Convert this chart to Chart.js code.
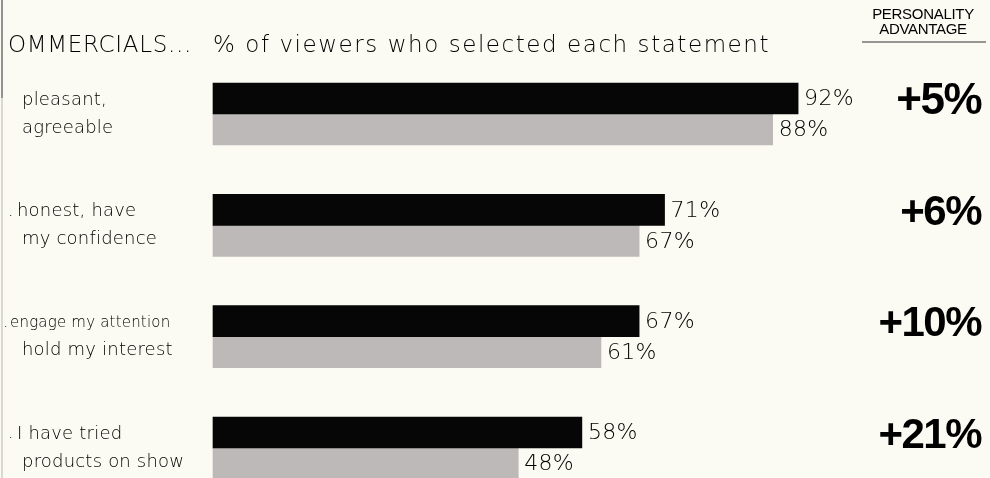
<!DOCTYPE html>
<html>
<head>
<meta charset="utf-8">
<script src="https://cdn.jsdelivr.net/npm/chart.js@4"></script>
<style>
  html, body { margin: 0; padding: 0; background: #fbfbf3; overflow: hidden; }
  #wrap { width: 990px; height: 478px; position: relative; }
</style>
</head>
<body>
<div id="wrap"><canvas id="chart" width="990" height="478"></canvas></div>
<script>
// data
const statements = [
  ["pleasant,", "agreeable"],
  [". honest, have", "my confidence"],
  [". engage my attention", "hold my interest"],
  [". I have tried", "products on show"]
];
const personalityShare = [92, 71, 67, 58]; // black bars
const otherShare = [88, 67, 61, 48];       // grey bars
const advantage = ["+5%", "+6%", "+10%", "+21%"];

const titleLeft = "OMMERCIALS...";
const titleMain = "% of viewers who selected each statement";
const headRight = ["PERSONALITY", "ADVANTAGE"];

const ink = "#000000";
const lightFont = "'DejaVu Sans'";

// draws text with some letter spacing (the original type is wide)
function spacedText(ctx, txt, x, y, spacing, align) {
  ctx.letterSpacing = spacing + "px";
  ctx.textAlign = align || "left";
  ctx.fillText(txt, x, y);
  ctx.letterSpacing = "0px";
}

// spreads a heading out so it covers the same width as in the scan
function fitText(ctx, txt, x, y, width) {
  ctx.letterSpacing = "0px";
  const w = ctx.measureText(txt).width;
  const sp = Math.max(0, (width - w) / txt.length);
  spacedText(ctx, txt, x, y, sp);
}

// all the text around the bars
const textPlugin = {
  id: "textPlugin",
  afterDraw(chart) {
    const ctx = chart.ctx;
    const yScale = chart.scales.y;
    ctx.save();
    ctx.fillStyle = ink;
    ctx.textBaseline = "middle";

    // left border line of the page
    ctx.strokeStyle = "#6f6f6f";
    ctx.lineWidth = 1.5;
    ctx.beginPath(); ctx.moveTo(2, 0); ctx.lineTo(2, 98); ctx.stroke();
    ctx.strokeStyle = "#b9b5ad";
    ctx.lineWidth = 1;
    ctx.beginPath(); ctx.moveTo(2, 98); ctx.lineTo(2, 478); ctx.stroke();

    // headings
    ctx.font = "200 23px " + lightFont;
    fitText(ctx, titleLeft, 8, 46, 184);
    fitText(ctx, titleMain, 213, 46, 557);

    ctx.font = "15px 'Liberation Sans Narrow', 'Liberation Sans'";
    spacedText(ctx, headRight[0], 923, 15, -0.3, "center");
    spacedText(ctx, headRight[1], 923, 30, -0.3, "center");
    ctx.strokeStyle = "#333";
    ctx.lineWidth = 1.2;
    ctx.beginPath(); ctx.moveTo(862, 42); ctx.lineTo(986, 42); ctx.stroke();

    // statement labels, placed on the category scale
    statements.forEach(function(lines, i) {
      const cy = yScale.getPixelForValue(i);
      lines.forEach(function(line, k) {
        const ly = cy - 14 + k * 28;
        let txt = line;
        let x = 22;
        if (txt.indexOf(". ") === 0) {
          txt = txt.slice(2);
          ctx.font = "200 17px " + lightFont;
          ctx.textAlign = "left";
          const long = txt.length > 16;
          ctx.fillText(".", long ? 3 : 8, ly);
          x = long ? 10 : 17;
        }
        const size = txt.length > 16 ? 15 : 18;
        ctx.font = "200 " + size + "px " + lightFont;
        spacedText(ctx, txt, x, ly, 0.2);
      });
      // personality advantage column
      ctx.font = "bold " + (i === 0 ? 44 : 42) + "px 'Liberation Sans'";
      spacedText(ctx, advantage[i], 981, cy - 12, -1.5, "right");
    });

    // value labels at the bar ends
    ctx.font = "200 22px " + lightFont;
    chart.data.datasets.forEach(function(ds, d) {
      chart.getDatasetMeta(d).data.forEach(function(bar, i) {
        spacedText(ctx, ds.data[i] + "%", bar.x + 6, bar.y + 1, 0.3);
      });
    });
    ctx.restore();
  }
};

new Chart(document.getElementById("chart"), {
  type: "bar",
  data: {
    labels: statements,
    datasets: [
      {
        label: "personality commercials",
        data: personalityShare,
        backgroundColor: "#060606",
        barThickness: 31,
        clip: false
      },
      {
        label: "other commercials",
        data: otherShare,
        backgroundColor: "#bdb9b8",
        barThickness: 31,
        clip: false
      }
    ]
  },
  options: {
    indexAxis: "y",
    responsive: false,
    animation: false,
    devicePixelRatio: 1,
    layout: { padding: { top: 114, bottom: 30, left: 213, right: 141 } },
    scales: {
      x: { display: false, min: 0, max: 100 },
      y: { display: false, offset: false }
    },
    plugins: {
      legend: { display: false },
      tooltip: { enabled: false }
    }
  },
  plugins: [textPlugin]
});
</script>
</body>
</html>
